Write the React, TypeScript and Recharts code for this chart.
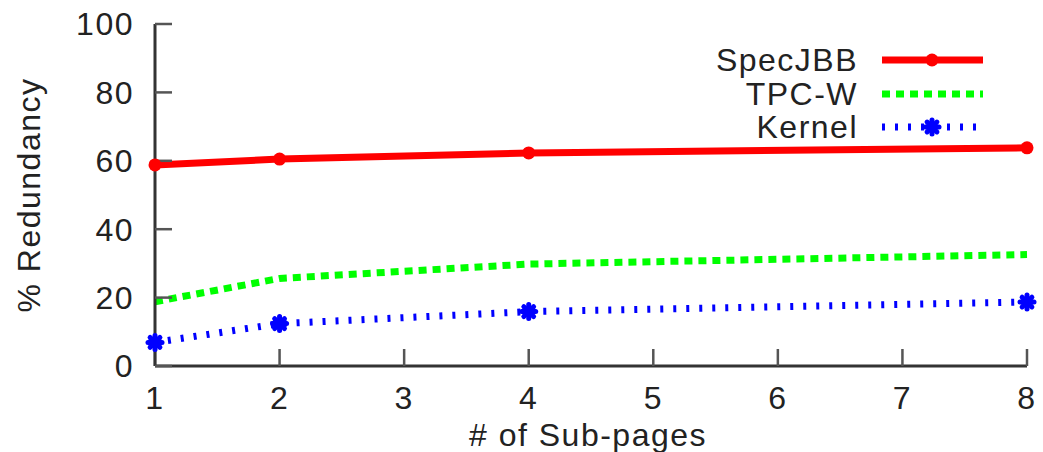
import { LineChart, Line, XAxis, YAxis, Label } from 'recharts';

const subPages = [1, 2, 4, 8];
const specJBB = [58.8, 60.5, 62.3, 63.8];
const tpcW = [18.8, 25.6, 29.8, 32.6];
const kernel = [6.9, 12.4, 15.9, 18.7];

const xTicks = [1, 2, 3, 4, 5, 6, 7, 8];
const yTicks = [0, 20, 40, 60, 80, 100];

const data = subPages.map((x, i) => ({
  x,
  specJBB: specJBB[i],
  tpcW: tpcW[i],
  kernel: kernel[i],
}));

const FONT = '"Liberation Sans", Arial, sans-serif';
const fontStyle = { fontFamily: FONT, fontSize: 32, letterSpacing: 1.5, fill: '#222' };

function Star({ cx, cy, size = 7 }: { cx: number; cy: number; size?: number }) {
  const d = size * 0.7;
  return (
    <g stroke="#0000ff" strokeWidth={5} strokeLinecap="round">
      <line x1={cx - size} y1={cy} x2={cx + size} y2={cy} />
      <line x1={cx} y1={cy - size} x2={cx} y2={cy + size} />
      <line x1={cx - d} y1={cy - d} x2={cx + d} y2={cy + d} />
      <line x1={cx - d} y1={cy + d} x2={cx + d} y2={cy - d} />
    </g>
  );
}

const legendRows = [
  { name: 'SpecJBB', kind: 'spec' },
  { name: 'TPC-W', kind: 'tpc' },
  { name: 'Kernel', kind: 'kernel' },
];

// legend sits on top of the plot, gnuplot style
function LegendBox() {
  return (
    <div
      style={{
        position: 'absolute',
        left: 700,
        top: 44,
        fontFamily: FONT,
        fontSize: 32,
        letterSpacing: 1.5,
        color: '#222',
      }}
    >
      {legendRows.map((r) => (
        <div key={r.name} style={{ display: 'flex', alignItems: 'center', height: 33.5 }}>
          <span style={{ width: 158, textAlign: 'right', lineHeight: '33px' }}>{r.name}</span>
          <svg width={110} height={33} style={{ marginLeft: 24, overflow: 'visible' }}>
            {r.kind === 'spec' && (
              <g>
                <line x1={0} y1={16} x2={101} y2={16} stroke="#ff0000" strokeWidth={7} />
                <circle cx={50} cy={16} r={6.5} fill="#ff0000" />
              </g>
            )}
            {r.kind === 'tpc' && (
              <line x1={0} y1={16} x2={101} y2={16} stroke="#00ff00" strokeWidth={7} strokeDasharray="8 6" />
            )}
            {r.kind === 'kernel' && (
              <g>
                <line x1={0} y1={16} x2={94} y2={16} stroke="#0000ff" strokeWidth={7} strokeDasharray="3 10" />
                <Star cx={50} cy={16} />
              </g>
            )}
          </svg>
        </div>
      ))}
    </div>
  );
}

export default function App() {
  return (
    <div style={{ position: 'absolute', left: 0, top: 0, width: 1043, height: 452, background: '#fff' }}>
      <LineChart width={1043} height={452} data={data} margin={{ top: 24, right: 0, bottom: 0, left: 0 }}>
        <XAxis
          dataKey="x"
          type="number"
          domain={[1, 8]}
          ticks={xTicks}
          height={86}
          tickSize={-17}
          tickMargin={37}
          tick={fontStyle}
          axisLine={{ stroke: '#333', strokeWidth: 3 }}
          tickLine={{ stroke: '#555', strokeWidth: 2.5 }}
        >
          <Label
            content={({ viewBox }: any) => (
              <text x={viewBox.x + viewBox.width / 2 - 3} y={446} textAnchor="middle" style={fontStyle}>
                # of Sub-pages
              </text>
            )}
          />
        </XAxis>
        <YAxis
          yAxisId="left"
          type="number"
          domain={[0, 100]}
          ticks={yTicks}
          width={155}
          tickSize={-17}
          tickMargin={38}
          tick={fontStyle}
          axisLine={{ stroke: '#333', strokeWidth: 3 }}
          tickLine={{ stroke: '#555', strokeWidth: 2.5 }}
        >
          <Label
            content={({ viewBox }: any) => (
              <text
                x={29}
                y={viewBox.y + viewBox.height / 2}
                textAnchor="middle"
                dominantBaseline="central"
                transform={`rotate(-90 29 ${viewBox.y + viewBox.height / 2})`}
                style={fontStyle}
              >
                % Redundancy
              </text>
            )}
          />
        </YAxis>
        <YAxis
          yAxisId="right"
          orientation="right"
          type="number"
          domain={[0, 100]}
          ticks={yTicks}
          width={16}
          tickSize={-18}
          tick={false}
          axisLine={false}
          tickLine={{ stroke: '#555', strokeWidth: 2.5 }}
        />
        <Line
          yAxisId="left"
          dataKey="specJBB"
          name="SpecJBB"
          stroke="#ff0000"
          strokeWidth={7}
          dot={(p: any) => <circle key={p.index} cx={p.cx} cy={p.cy} r={6.5} fill="#ff0000" />}
          activeDot={false}
          isAnimationActive={false}
        />
        <Line
          yAxisId="left"
          dataKey="tpcW"
          name="TPC-W"
          stroke="#00ff00"
          strokeWidth={7}
          strokeDasharray="8 6"
          dot={false}
          activeDot={false}
          isAnimationActive={false}
        />
        <Line
          yAxisId="left"
          dataKey="kernel"
          name="Kernel"
          stroke="#0000ff"
          strokeWidth={7}
          strokeDasharray="3 10"
          dot={(p: any) => <Star key={p.index} cx={p.cx} cy={p.cy} />}
          activeDot={false}
          isAnimationActive={false}
        />
      </LineChart>
      <LegendBox />
    </div>
  );
}
